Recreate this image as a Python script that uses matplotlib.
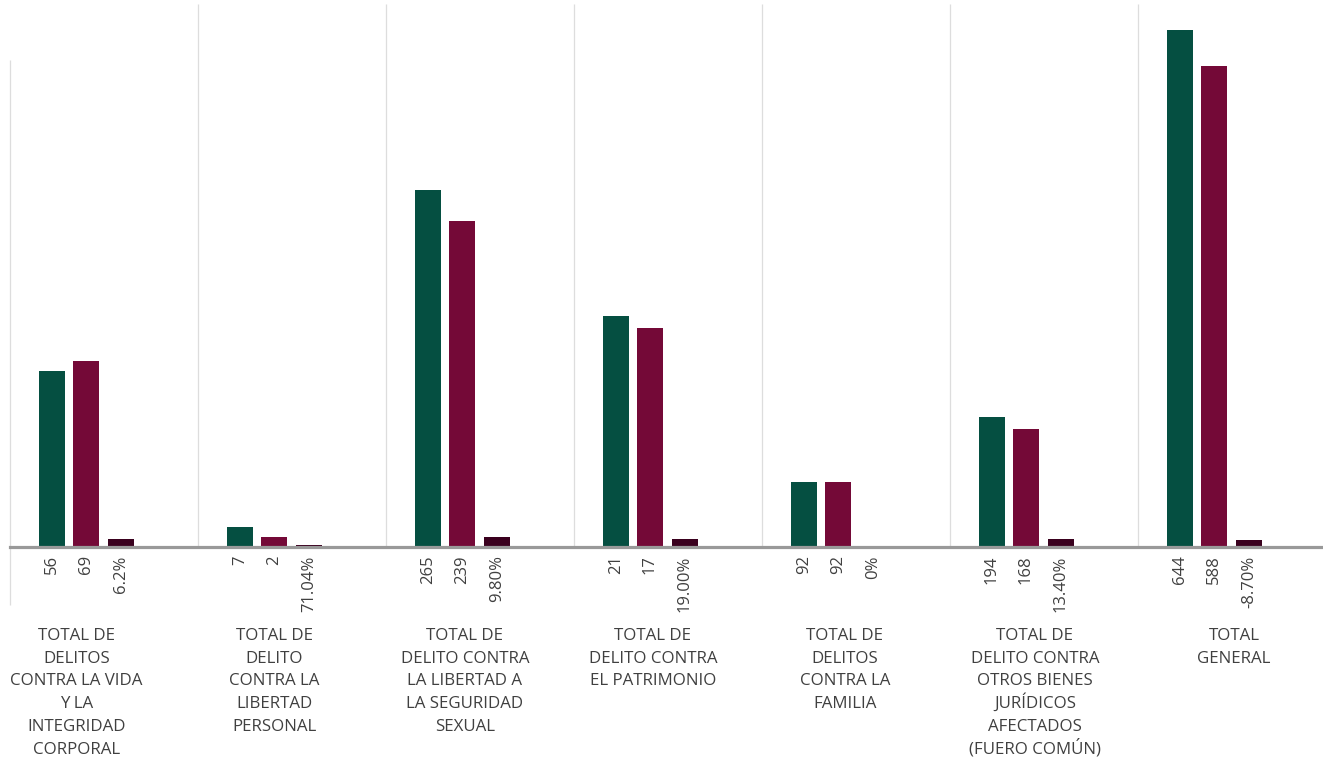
import matplotlib
matplotlib.use("Agg")
import matplotlib.pyplot as plt
import numpy as np

# ---------------- data ----------------
groups = [
    "TOTAL DE\nDELITOS\nCONTRA LA VIDA\nY LA\nINTEGRIDAD\nCORPORAL",
    "TOTAL DE\nDELITO\nCONTRA LA\nLIBERTAD\nPERSONAL",
    "TOTAL DE\nDELITO CONTRA\nLA LIBERTAD A\nLA SEGURIDAD\nSEXUAL",
    "TOTAL DE\nDELITO CONTRA\nEL PATRIMONIO",
    "TOTAL DE\nDELITOS\nCONTRA LA\nFAMILIA",
    "TOTAL DE\nDELITO CONTRA\nOTROS BIENES\nJURÍDICOS\nAFECTADOS\n(FUERO COMÚN)",
    "TOTAL\nGENERAL",
]
# bar heights (no value axis shown; relative units)
green_vals = [176, 20, 357, 231, 65, 130, 517]
maroon_vals = [186, 10, 326, 219, 65, 118, 481]
dark_vals = [8, 2, 10, 8, 0, 8, 7]
# category labels under each bar
green_labels = ["56", "7", "265", "21", "92", "194", "644"]
maroon_labels = ["69", "2", "239", "17", "92", "168", "588"]
dark_labels = ["6.2%", "71.04%", "9.80%", "19.00%", "0%", "13.40%", "-8.70%"]

# ---------------- layout ----------------
W, H = 1323, 757
X0, GW, BASE = 10, 188, 547          # pixel layout of the category axis
offsets = [42 / GW, 76 / GW, 111 / GW]
bw = 26 / GW
label_px = [76.5, 274.5, 465, 653, 845, 1035, 1234]
LINE_PX = 22.7
FIRST_BASELINE_PX = 640

GREEN, MAROON, DARK = "#054F41", "#740937", "#3A001E"
TXT = "#404040"
plt.rcParams["font.family"] = ["Open Sans", "DejaVu Sans"]

fig = plt.figure(figsize=(W / 100, H / 100), dpi=100)
ax = fig.add_axes([0, 0, 1, 1])
ax.set_xlim(-X0 / GW, (W - X0) / GW)
ax.set_ylim(-(H - BASE), BASE)

idx = np.arange(len(groups))
ax.bar(idx + offsets[0], green_vals, bw, color=GREEN, zorder=3)
ax.bar(idx + offsets[1], maroon_vals, bw, color=MAROON, zorder=3)
ax.bar(idx + offsets[2], dark_vals, bw, color=DARK, zorder=3)

# group separators
ax.vlines(idx[1:], 0, BASE - 4, color="#DDDDDD", lw=0.9, zorder=1)
ax.vlines([0], -(605 - BASE), BASE - 60, color="#DDDDDD", lw=0.9, zorder=1)

# axis line at zero
for s in ["top", "right", "left"]:
    ax.spines[s].set_visible(False)
ax.spines["bottom"].set_position(("data", 0))
ax.spines["bottom"].set_bounds(0, (W - X0) / GW)
ax.spines["bottom"].set_color("#999999")
ax.spines["bottom"].set_linewidth(2.3)
ax.spines["bottom"].set_zorder(4)
ax.set_yticks([])

pos, labs = [], []
for i in idx:
    for k, lab in enumerate([green_labels[i], maroon_labels[i], dark_labels[i]]):
        pos.append(i + offsets[k])
        labs.append(lab)
ax.set_xticks(pos)
ax.set_xticklabels(labs, rotation=90, fontsize=12, color=TXT)
ax.tick_params(axis="x", length=0, pad=6)

for i, g in enumerate(groups):
    for j, line in enumerate(g.split("\n")):
        ax.text((label_px[i] - X0) / GW, BASE - (FIRST_BASELINE_PX + j * LINE_PX),
                line, ha="center", va="baseline", fontsize=12.2, color=TXT)

fig.savefig("out.png", dpi=100)
